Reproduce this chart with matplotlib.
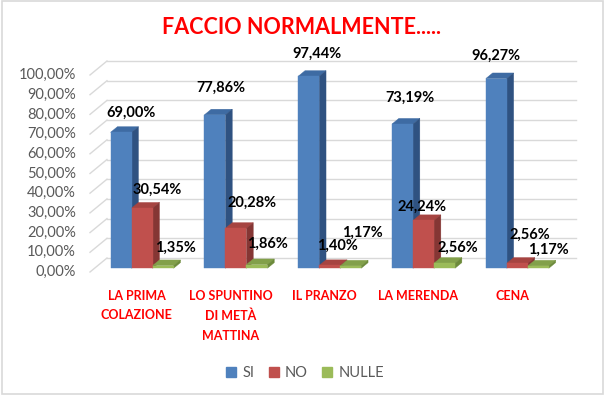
import matplotlib
matplotlib.use("Agg")
import matplotlib.pyplot as plt
from matplotlib.patches import Polygon, Rectangle

plt.rcParams['font.family'] = ['Lato', 'DejaVu Sans']

categories = ["LA PRIMA\nCOLAZIONE", "LO SPUNTINO\nDI METÀ\nMATTINA",
              "IL PRANZO", "LA MERENDA", "CENA"]
series_names = ["SI", "NO", "NULLE"]
si = [69.00, 77.86, 97.44, 73.19, 96.27]
no = [30.54, 20.28, 1.40, 24.24, 2.56]
nulle = [1.35, 1.86, 1.17, 2.56, 1.17]
yticks = [0, 10, 20, 30, 40, 50, 60, 70, 80, 90, 100]

# colours: front, side, top
colors = [("#4F81BD", "#2F5281", "#3E6BA3"),
          ("#C0504D", "#853634", "#A64441"),
          ("#9BBB59", "#6C8A3A", "#82A04A")]

# where each data label sits, in pixels from the top-front centre of its bar
label_nudge = [
    [(10, 19), (6, 27), (8, 22), (7, 26), (0, 23)],
    [(15, 18), (16, 25), (8, 20), (-1, 14), (13, 28)],
    [(12, 18), (11, 21), (12, 33), (13, 15), (10, 16)],
]

W, H = 605, 395
fig = plt.figure(figsize=(W / 100, H / 100), dpi=100)
fig.patches.append(Rectangle((0.003, 0.003), 0.994, 0.994, transform=fig.transFigure,
                             fill=False, edgecolor="#d9d9d9", linewidth=1.2))

# front plane of the plot box, in pixels
left, right, top, bottom = 90, 559, 75, 272
ax = fig.add_axes([left / W, (H - bottom) / H, (right - left) / W, (bottom - top) / H])
ax.set_xlim(-0.5, 4.5)
ax.set_ylim(0, 100)
ax.axis("off")

DX, DY = 0.181, 7.1          # full floor depth in data units
f0, fd = 0.27, 0.40          # bar front depth / bar depth (fractions)
bw = 0.224
grid_c = "#d9d9d9"

# grid: back wall lines + slanted side lines
for v in yticks:
    ax.plot([-0.5 + DX, 4.5 + DX], [v + DY, v + DY], color=grid_c, lw=1, clip_on=False, zorder=1)
    ax.plot([-0.5, -0.5 + DX], [v, v + DY], color=grid_c, lw=1, clip_on=False, zorder=1)
    ax.text(-0.65, v, f"{v:.2f}%".replace(".", ","), ha="right", va="center",
            fontsize=10.5, color="#595959", transform=ax.transData)

for k, vals in enumerate([si, no, nulle]):
    front, side, topc = colors[k]
    xs = [i - 0.329 + f0 * DX + k * bw for i in range(len(vals))]
    base = f0 * DY
    ax.bar(xs, vals, width=bw, bottom=base, align="edge", color=front,
           edgecolor=front, linewidth=0.3, zorder=3 + k, clip_on=False)
    bdx, bdy = fd * DX, fd * DY
    for j, (x0, h) in enumerate(zip(xs, vals)):
        x1, y0, y1 = x0 + bw, base, base + h
        ax.add_patch(Polygon([(x0, y1), (x1, y1), (x1 + bdx, y1 + bdy), (x0 + bdx, y1 + bdy)],
                             closed=True, facecolor=topc, edgecolor=topc, lw=0.3,
                             zorder=2.9 + k, clip_on=False))
        ax.add_patch(Polygon([(x1, y0), (x1 + bdx, y0 + bdy), (x1 + bdx, y1 + bdy), (x1, y1)],
                             closed=True, facecolor=side, edgecolor=side, lw=0.3,
                             zorder=2.9 + k, clip_on=False))
        ax.annotate(f"{h:.2f}%".replace(".", ","), (x0 + bw / 2, y1),
                    xytext=label_nudge[k][j], textcoords="offset pixels",
                    ha="center", va="center", fontsize=10.5, fontweight="bold",
                    color="black", zorder=10 + k, annotation_clip=False)

for i, c in enumerate(categories):
    ax.text(i, -9, c, ha="center", va="top", fontsize=9, fontweight="bold",
            color="#ff0000", linespacing=1.75, transform=ax.transData)

fig.text(302 / W, 1 - 27 / H, "FACCIO NORMALMENTE.....", ha="center", va="center",
         fontsize=15.5, fontweight="bold", color="#ff0000")

handles = [Rectangle((0, 0), 1, 1, color=colors[k][0]) for k in range(3)]
fig.legend(handles, series_names, loc="center", bbox_to_anchor=(305 / W, 1 - 373 / H),
           ncol=3, frameon=False, fontsize=10.5, labelcolor="#595959",
           handlelength=0.7, handleheight=0.7, handletextpad=0.4, columnspacing=1.0)

fig.savefig("out.png", dpi=100)
